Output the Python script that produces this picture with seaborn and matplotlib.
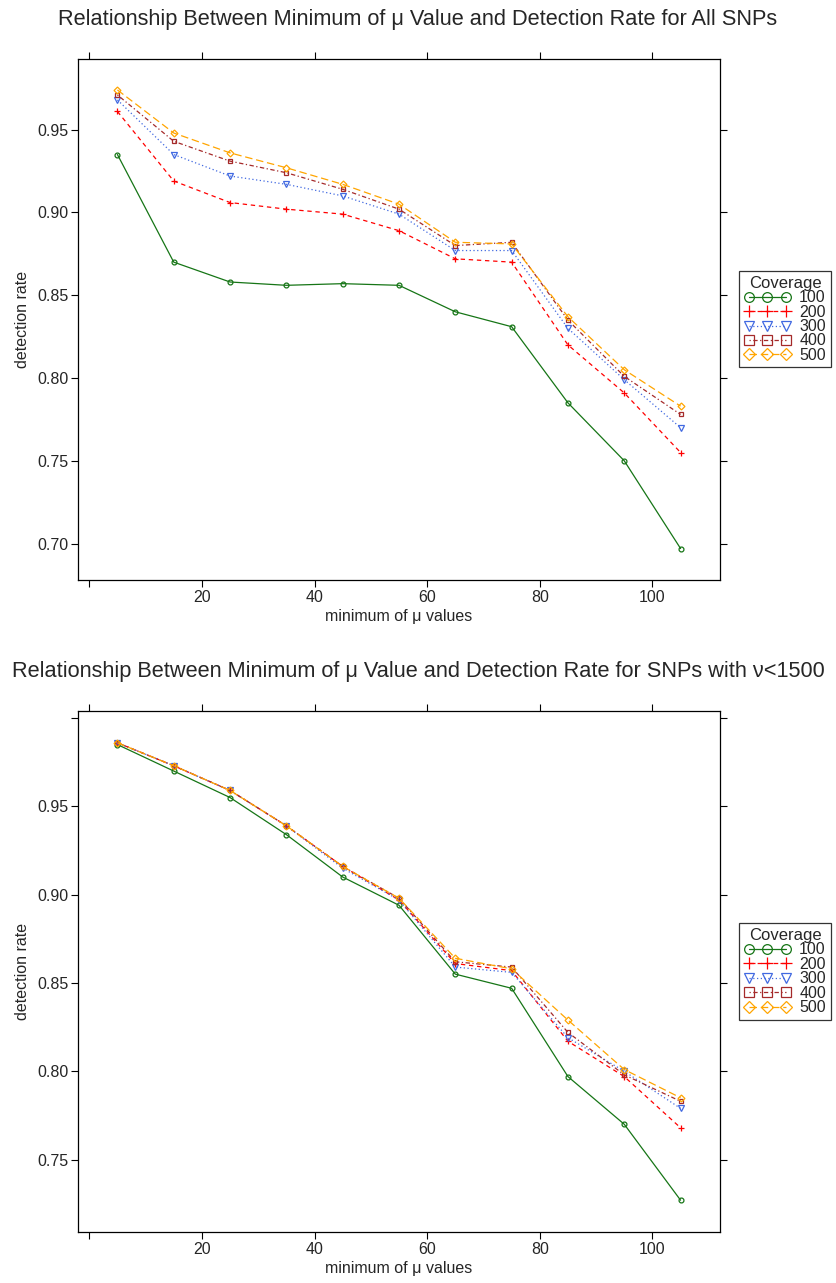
import numpy as np
import pandas as pd
import matplotlib
matplotlib.use("Agg")
import matplotlib.pyplot as plt
from matplotlib.lines import Line2D
import seaborn as sns

# ---------------- data ----------------
mu_min = [5, 15, 25, 35, 45, 55, 65, 75, 85, 95, 105]
coverage = ["100", "200", "300", "400", "500"]

all_100 = [0.935, 0.870, 0.858, 0.856, 0.857, 0.856, 0.840, 0.831, 0.785, 0.750, 0.697]
all_200 = [0.961, 0.919, 0.906, 0.902, 0.899, 0.889, 0.872, 0.870, 0.820, 0.791, 0.755]
all_300 = [0.968, 0.935, 0.922, 0.917, 0.910, 0.899, 0.877, 0.877, 0.830, 0.799, 0.770]
all_400 = [0.971, 0.943, 0.931, 0.924, 0.914, 0.902, 0.880, 0.882, 0.835, 0.801, 0.778]
all_500 = [0.974, 0.948, 0.936, 0.927, 0.917, 0.905, 0.882, 0.881, 0.837, 0.805, 0.783]

sub_100 = [0.985, 0.970, 0.955, 0.934, 0.910, 0.894, 0.855, 0.847, 0.797, 0.770, 0.727]
sub_200 = [0.986, 0.973, 0.959, 0.939, 0.916, 0.897, 0.861, 0.857, 0.817, 0.797, 0.768]
sub_300 = [0.986, 0.973, 0.959, 0.939, 0.915, 0.897, 0.859, 0.856, 0.819, 0.800, 0.779]
sub_400 = [0.986, 0.973, 0.959, 0.939, 0.916, 0.898, 0.862, 0.859, 0.822, 0.798, 0.783]
sub_500 = [0.986, 0.973, 0.959, 0.939, 0.916, 0.898, 0.864, 0.858, 0.829, 0.801, 0.785]

x_ticks = [0, 20, 40, 60, 80, 100]
x_ticklabels = ["", "20", "40", "60", "80", "100"]
y_ticks_top = [0.70, 0.75, 0.80, 0.85, 0.90, 0.95]
y_ticks_bot = [0.75, 0.80, 0.85, 0.90, 0.95, 1.00]

title_top = "Relationship Between Minimum of \u03bc Value and Detection Rate for All SNPs"
title_bot = "Relationship Between Minimum of \u03bc Value and Detection Rate for SNPs with \u03bd<1500"
xlabel = "minimum of \u03bc values"
ylabel = "detection rate"
legend_title = "Coverage"

# ---------------- style ----------------
colors = {"100": "#167516", "200": "#FF0000", "300": "#4169E1", "400": "#A52A2A", "500": "#FFA500"}
markers = {"100": "o", "200": "+", "300": "v", "400": "s", "500": "D"}
dashes = {"100": "-", "200": (0, (3.5, 3)), "300": (0, (1, 2)),
          "400": (0, (1, 2, 3.5, 2)), "500": (0, (6, 3))}
msize = {"100": 3.5, "200": 5, "300": 4, "400": 3.5, "500": 3.5}
leg_msize = {"100": 7, "200": 9, "300": 7, "400": 6.5, "500": 6.5}

sns.set_theme(style="white")
plt.rcParams["font.family"] = ["Liberation Sans", "DejaVu Sans"]

W, H = 836, 1283
fig = plt.figure(figsize=(W / 100, H / 100), dpi=100)


def build_df(series):
    rows = []
    for cov, vals in zip(coverage, series):
        for x, v in zip(mu_min, vals):
            rows.append({"mu": x, "rate": v, "Coverage": cov})
    return pd.DataFrame(rows)


def draw_panel(rect, df, ylim, yticks, yticklabels, title, title_y):
    ax = fig.add_axes(rect)
    for cov in coverage:
        d = df[df["Coverage"] == cov]
        sns.lineplot(data=d, x="mu", y="rate", ax=ax, color=colors[cov],
                     marker=markers[cov], linestyle=dashes[cov], lw=0.9,
                     markersize=msize[cov], markerfacecolor="none",
                     markeredgecolor=colors[cov], markeredgewidth=0.9,
                     legend=False, estimator=None)
    ax.set_xlim(-2, 112)
    ax.set_ylim(*ylim)
    ax.set_xticks(x_ticks)
    ax.set_xticklabels(x_ticklabels)
    ax.set_yticks(yticks)
    ax.set_yticklabels(yticklabels)
    ax.tick_params(axis="both", which="both", direction="out", length=5, width=0.8,
                   color="black", labelsize=11.5, pad=2,
                   top=True, right=True, bottom=True, left=True,
                   labeltop=False, labelright=False)
    for s in ax.spines.values():
        s.set_color("black")
        s.set_linewidth(0.9)
    ax.set_xlabel(xlabel, fontsize=11.5, labelpad=3)
    ax.set_ylabel(ylabel, fontsize=11.5, labelpad=5)
    fig.text(0.5, 1 - title_y / H, title, ha="center", va="center", fontsize=15.7)

    handles = [Line2D([0], [0], color=colors[c], marker=markers[c], linestyle=dashes[c],
                      lw=0.9, markersize=leg_msize[c], markerfacecolor="none",
                      markeredgecolor=colors[c], markeredgewidth=0.9) for c in coverage]
    leg = ax.legend(handles, coverage, title=legend_title, loc="center left",
                    bbox_to_anchor=(1.03, 0.5), fontsize=11.5, title_fontsize=12,
                    numpoints=3, handlelength=2.9, handletextpad=0.55,
                    labelspacing=-0.04, borderpad=0.3, borderaxespad=0.0,
                    frameon=True, fancybox=False, handleheight=0.6)
    leg.get_frame().set_edgecolor("black")
    leg.get_frame().set_linewidth(0.9)
    return ax


df_all = build_df([all_100, all_200, all_300, all_400, all_500])
df_sub = build_df([sub_100, sub_200, sub_300, sub_400, sub_500])

draw_panel([78 / W, 1 - 580 / H, 642 / W, 521.5 / H], df_all, (0.678, 0.993),
           y_ticks_top, [f"{v:.2f}" for v in y_ticks_top], title_top, 20)
draw_panel([78 / W, 1 - 1232 / H, 642 / W, 521 / H], df_sub, (0.709, 1.004),
           y_ticks_bot, [f"{v:.2f}" for v in y_ticks_bot[:-1]] + [""], title_bot, 672)

fig.savefig("out.png", dpi=100)
